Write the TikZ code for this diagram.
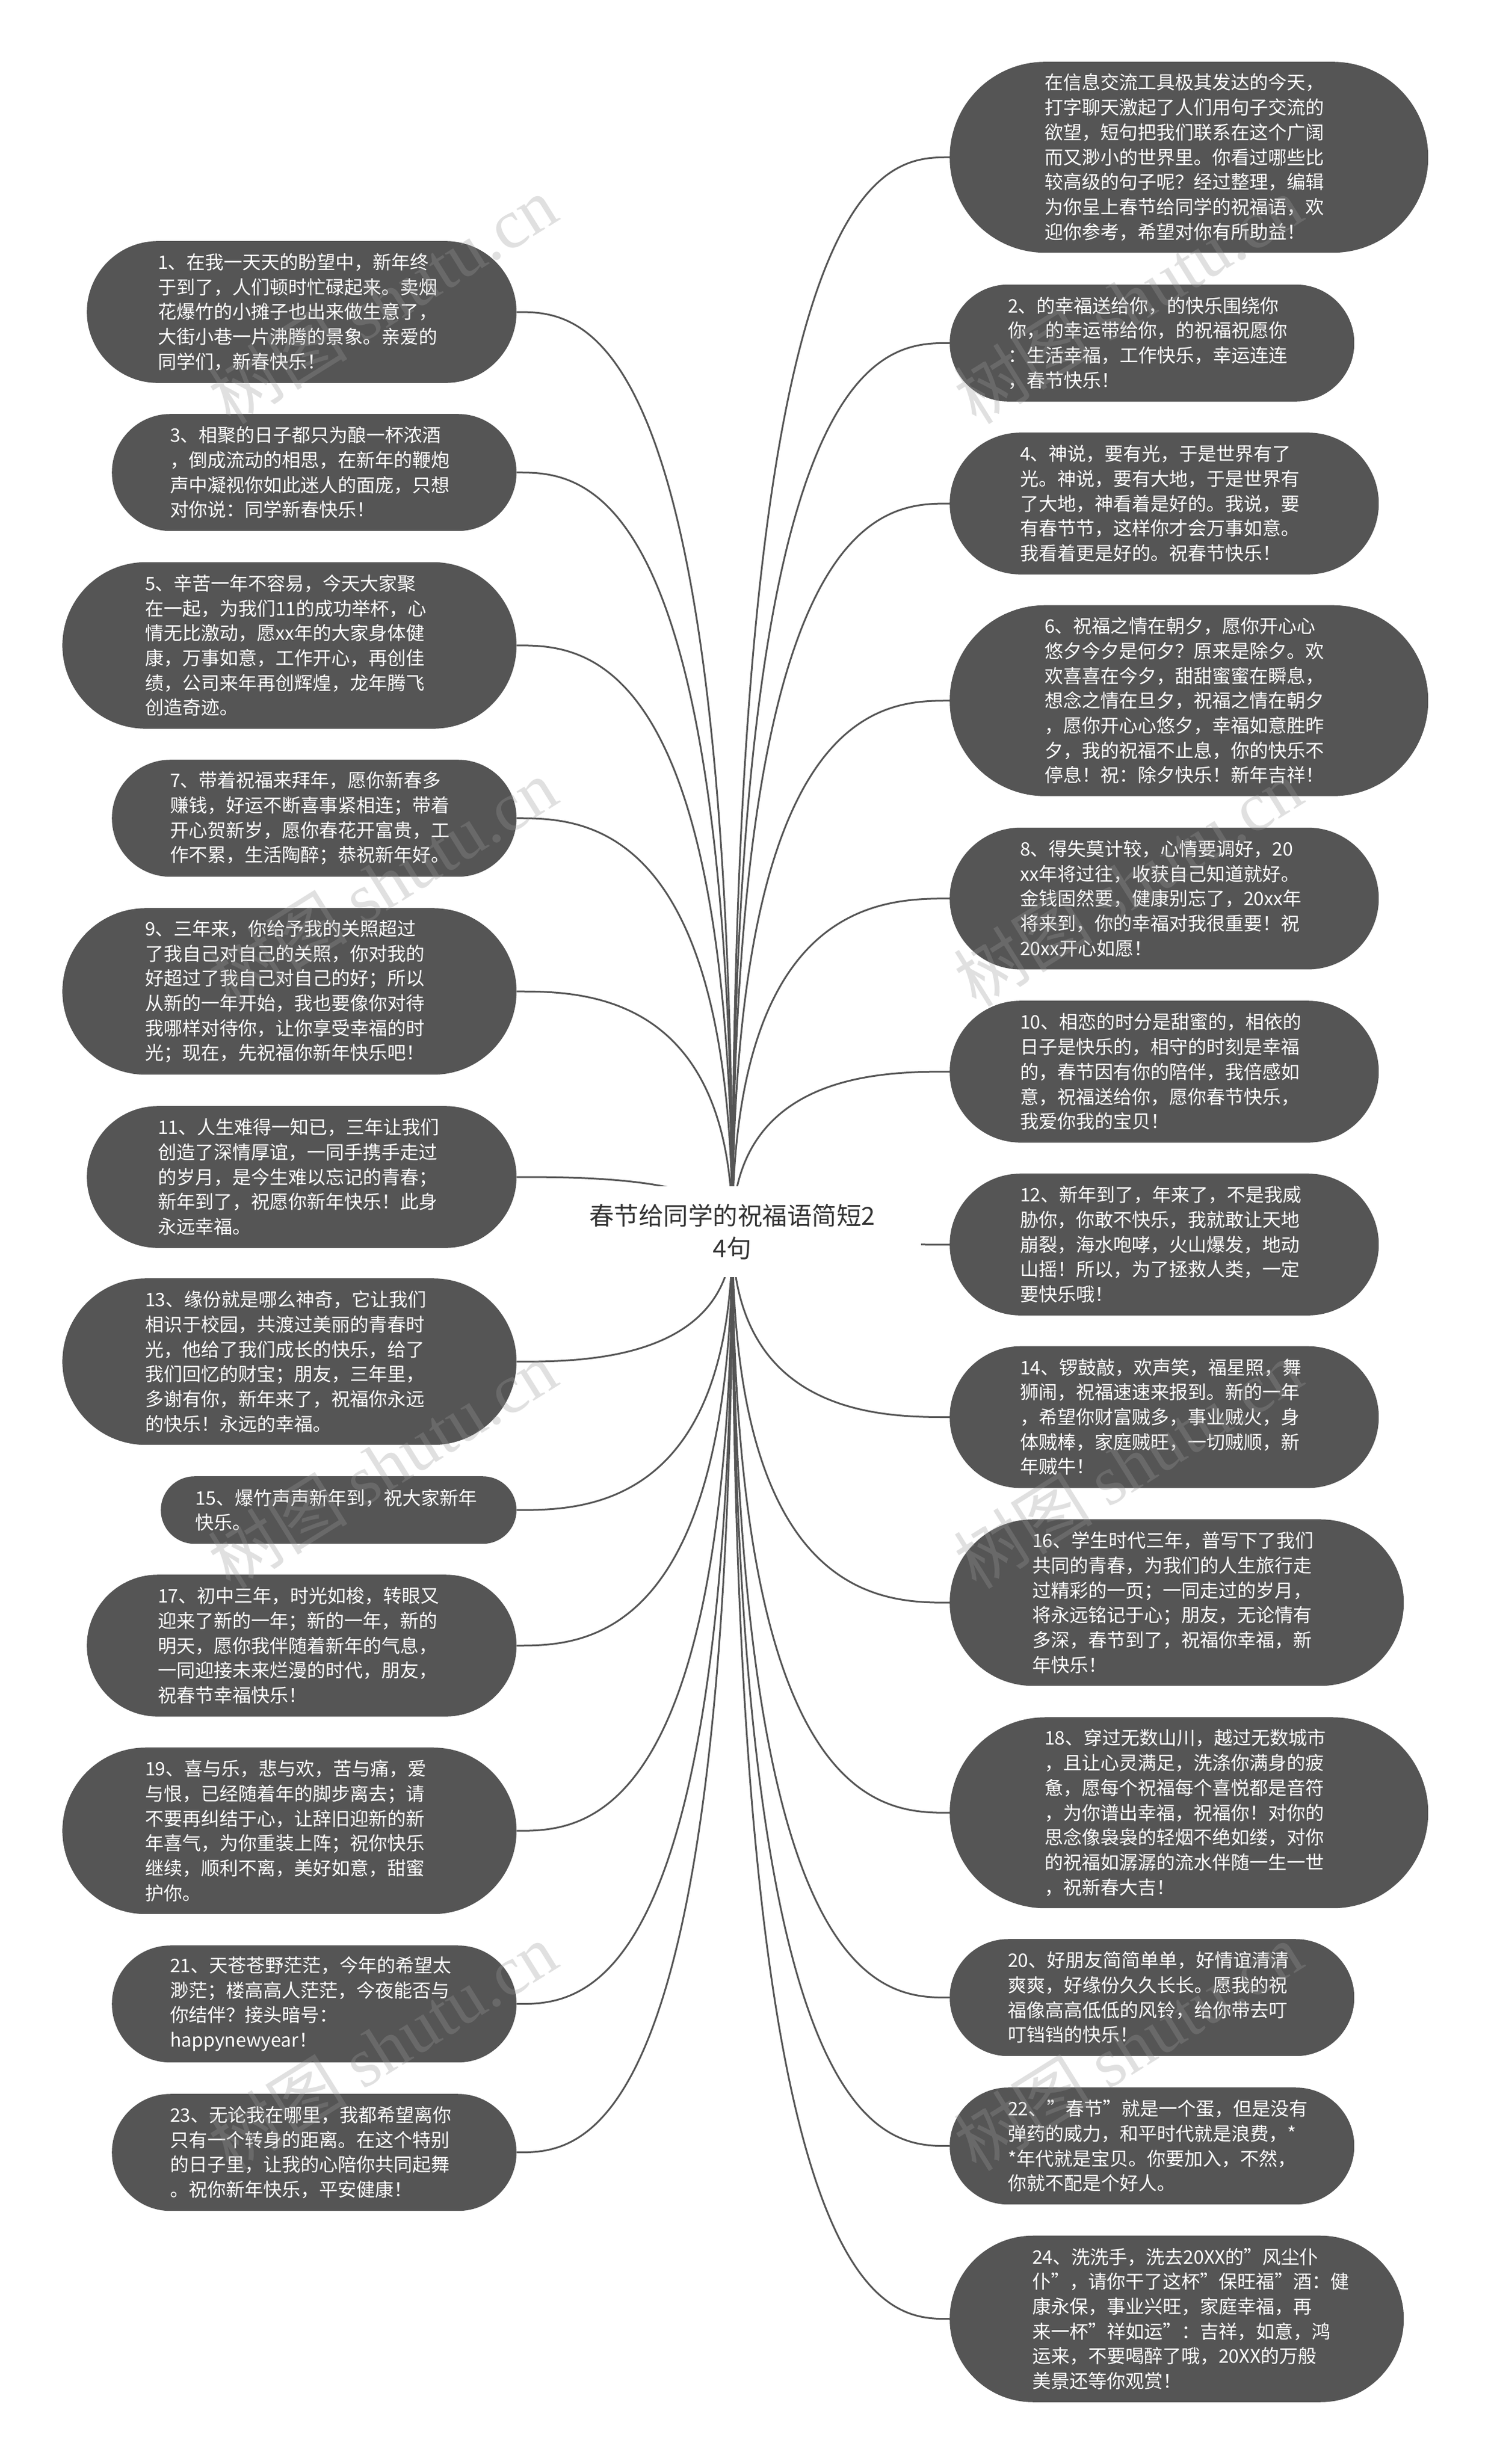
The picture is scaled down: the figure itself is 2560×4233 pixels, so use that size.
\documentclass[tikz,border=0pt]{standalone}
\usepackage{fontspec}
\setmainfont{Noto Sans CJK SC}
\newfontfamily\wmlatin{Liberation Serif}
\usetikzlibrary{calc}
\pgfdeclarelayer{edgelayer}
\pgfdeclarelayer{marklayer}
\pgfsetlayers{edgelayer,main,marklayer}
\definecolor{pillgrey}{HTML}{555555}
\definecolor{markgrey}{HTML}{999999}
\definecolor{roottext}{HTML}{333333}
\tikzset{
  pillbox/.style={rectangle,fill=pillgrey,text=white,anchor=north west,inner ysep=0pt,align=left,
    font=\fontsize{32}{42.7}\selectfont},
  rootbox/.style={rectangle,fill=white,text=roottext,inner sep=0pt,align=center,
    minimum width=648pt,minimum height=156pt,text width=500pt,
    font=\fontsize{42.5}{56}\selectfont},
  conn/.style={draw=pillgrey,line width=3pt},
  wmark/.style={text=markgrey,opacity=0.3,rotate=32,inner sep=0pt,font=\fontsize{120}{130}\selectfont}
}
% name, x, top, width, height, pad, text
\newcommand\pillnode[7]{%
  \node[pillbox,minimum width=#4pt,minimum height=#5pt,rounded corners=#5pt/2,
        inner xsep=#6pt,text width=\dimexpr #4pt-#6pt-#6pt\relax] (#1) at (#2,#3) {#7};}
\newcommand\connect[2]{%
  \draw[conn] let \p1=(#1.#2),\p2=(root.center) in
    (\p1) .. controls ({\x1+0.3*(\x2-\x1)},\y1) and (\x2,\y1) .. (\x2,\y2);}
\begin{document}
\begin{tikzpicture}[x=1pt,y=-1pt]
\useasboundingbox (0,0) rectangle (2560,4233);

\node[rootbox] (root) at (1258,2116) {春节给同学的祝福语简短2\\4句};

% left column
\pillnode{n1}{149}{414}{738}{243.6}{122}{1、在我一天天的盼望中，新年终\\于到了，人们顿时忙碌起来。卖烟\\花爆竹的小摊子也出来做生意了，\\大街小巷一片沸腾的景象。亲爱的\\同学们，新春快乐！}
\pillnode{n3}{192}{711}{695}{201}{100}{3、相聚的日子都只为酿一杯浓酒\\，倒成流动的相思，在新年的鞭炮\\声中凝视你如此迷人的面庞，只想\\对你说：同学新春快乐！}
\pillnode{n5}{107}{965.6}{780}{286}{142}{5、辛苦一年不容易，今天大家聚\\在一起，为我们11的成功举杯，心\\情无比激动，愿xx年的大家身体健\\康，万事如意，工作开心，再创佳\\绩，公司来年再创辉煌，龙年腾飞\\创造奇迹。}
\pillnode{n7}{192}{1305}{695}{201}{100}{7、带着祝福来拜年，愿你新春多\\赚钱，好运不断喜事紧相连；带着\\开心贺新岁，愿你春花开富贵，工\\作不累，生活陶醉；恭祝新年好。}
\pillnode{n9}{107}{1560}{780}{286}{142}{9、三年来，你给予我的关照超过\\了我自己对自己的关照，你对我的\\好超过了我自己对自己的好；所以\\从新的一年开始，我也要像你对待\\我哪样对待你，让你享受幸福的时\\光；现在，先祝福你新年快乐吧！}
\pillnode{n11}{149}{1900}{738}{243.6}{122}{11、人生难得一知已，三年让我们\\创造了深情厚谊，一同手携手走过\\的岁月，是今生难以忘记的青春；\\新年到了，祝愿你新年快乐！此身\\永远幸福。}
\pillnode{n13}{107}{2196}{780}{286}{142}{13、缘份就是哪么神奇，它让我们\\相识于校园，共渡过美丽的青春时\\光，他给了我们成长的快乐，给了\\我们回忆的财宝；朋友，三年里，\\多谢有你，新年来了，祝福你永远\\的快乐！永远的幸福。}
\pillnode{n15}{276}{2536}{611}{116}{59.5}{15、爆竹声声新年到，祝大家新年\\快乐。}
\pillnode{n17}{149}{2705}{738}{243.6}{122}{17、初中三年，时光如梭，转眼又\\迎来了新的一年；新的一年，新的\\明天，愿你我伴随着新年的气息，\\一同迎接未来烂漫的时代，朋友，\\祝春节幸福快乐！}
\pillnode{n19}{107}{3002}{780}{286}{142}{19、喜与乐，悲与欢，苦与痛，爱\\与恨，已经随着年的脚步离去；请\\不要再纠结于心，让辞旧迎新的新\\年喜气，为你重装上阵；祝你快乐\\继续，顺利不离，美好如意，甜蜜\\护你。}
\pillnode{n21}{192}{3342}{695}{201}{100}{21、天苍苍野茫茫，今年的希望太\\渺茫；楼高高人茫茫，今夜能否与\\你结伴？接头暗号：\\happynewyear！}
\pillnode{n23}{192}{3597}{695}{201}{100}{23、无论我在哪里，我都希望离你\\只有一个转身的距离。在这个特别\\的日子里，让我的心陪你共同起舞\\。祝你新年快乐，平安健康！}

% right column
\pillnode{n0}{1631}{106}{822}{328}{163}{在信息交流工具极其发达的今天，\\打字聊天激起了人们用句子交流的\\欲望，短句把我们联系在这个广阔\\而又渺小的世界里。你看过哪些比\\较高级的句子呢？经过整理，编辑\\为你呈上春节给同学的祝福语，欢\\迎你参考，希望对你有所助益！}
\pillnode{n2}{1631}{488.6}{695}{201}{100}{2、的幸福送给你，的快乐围绕你\\你，的幸运带给你，的祝福祝愿你\\：生活幸福，工作快乐，幸运连连\\，春节快乐！}
\pillnode{n4}{1631}{743}{737}{243.6}{121}{4、神说，要有光，于是世界有了\\光。神说，要有大地，于是世界有\\了大地，神看着是好的。我说，要\\有春节节，这样你才会万事如意。\\我看着更是好的。祝春节快乐！}
\pillnode{n6}{1631}{1039.5}{822}{328}{163}{6、祝福之情在朝夕，愿你开心心\\悠夕今夕是何夕？原来是除夕。欢\\欢喜喜在今夕，甜甜蜜蜜在瞬息，\\想念之情在旦夕，祝福之情在朝夕\\，愿你开心心悠夕，幸福如意胜昨\\夕，我的祝福不止息，你的快乐不\\停息！祝：除夕快乐！新年吉祥！}
\pillnode{n8}{1631}{1421.6}{737}{243.6}{121}{8、得失莫计较，心情要调好，20\\xx年将过往，收获自己知道就好。\\金钱固然要，健康别忘了，20xx年\\将来到，你的幸福对我很重要！祝\\20xx开心如愿！}
\pillnode{n10}{1631}{1719}{737}{243.6}{121}{10、相恋的时分是甜蜜的，相依的\\日子是快乐的，相守的时刻是幸福\\的，春节因有你的陪伴，我倍感如\\意，祝福送给你，愿你春节快乐，\\我爱你我的宝贝！}
\pillnode{n12}{1631}{2016}{737}{243.6}{121}{12、新年到了，年来了，不是我威\\胁你，你敢不快乐，我就敢让天地\\崩裂，海水咆哮，火山爆发，地动\\山摇！所以，为了拯救人类，一定\\要快乐哦！}
\pillnode{n14}{1631}{2312.5}{737}{243.6}{121}{14、锣鼓敲，欢声笑，福星照，舞\\狮闹，祝福速速来报到。新的一年\\，希望你财富贼多，事业贼火，身\\体贼棒，家庭贼旺，一切贼顺，新\\年贼牛！}
\pillnode{n16}{1631}{2610}{780}{286}{142}{16、学生时代三年，普写下了我们\\共同的青春，为我们的人生旅行走\\过精彩的一页；一同走过的岁月，\\将永远铭记于心；朋友，无论情有\\多深，春节到了，祝福你幸福，新\\年快乐！}
\pillnode{n18}{1631}{2950}{822}{328}{163}{18、穿过无数山川，越过无数城市\\，且让心灵满足，洗涤你满身的疲\\惫，愿每个祝福每个喜悦都是音符\\，为你谱出幸福，祝福你！对你的\\思念像袅袅的轻烟不绝如缕，对你\\的祝福如潺潺的流水伴随一生一世\\，祝新春大吉！}
\pillnode{n20}{1631}{3331}{695}{201}{100}{20、好朋友简简单单，好情谊清清\\爽爽，好缘份久久长长。愿我的祝\\福像高高低低的风铃，给你带去叮\\叮铛铛的快乐！}
\pillnode{n22}{1631}{3586}{695}{201}{100}{22、"春节"就是一个蛋，但是没有\\弹药的威力，和平时代就是浪费，*\\{}*年代就是宝贝。你要加入，不然，\\你就不配是个好人。}
\pillnode{n24}{1631}{3840.5}{780}{286}{142}{24、洗洗手，洗去20XX的"风尘仆\\仆"，请你干了这杯"保旺福"酒：健\\康永保，事业兴旺，家庭幸福，再\\来一杯"祥如运"：吉祥，如意，鸿\\运来，不要喝醉了哦，20XX的万般\\美景还等你观赏！}

% connectors, behind the nodes
\begin{pgfonlayer}{edgelayer}
\foreach \nm in {n1,n3,n5,n7,n9,n11,n13,n15,n17,n19,n21,n23}{\connect{\nm}{east}}
\foreach \nm in {n0,n2,n4,n6,n8,n10,n12,n14,n16,n18,n20,n22,n24}{\connect{\nm}{west}}
\end{pgfonlayer}

% watermark
\begin{pgfonlayer}{marklayer}
\foreach \wx in {657,1937}{
  \foreach \wy in {515,1516,2516,3516}{
    \node[wmark] (wm\wx\wy) at (\wx,\wy) {树图 {\wmlatin shutu.cn}};
  }
}
\end{pgfonlayer}
\end{tikzpicture}
\end{document}
